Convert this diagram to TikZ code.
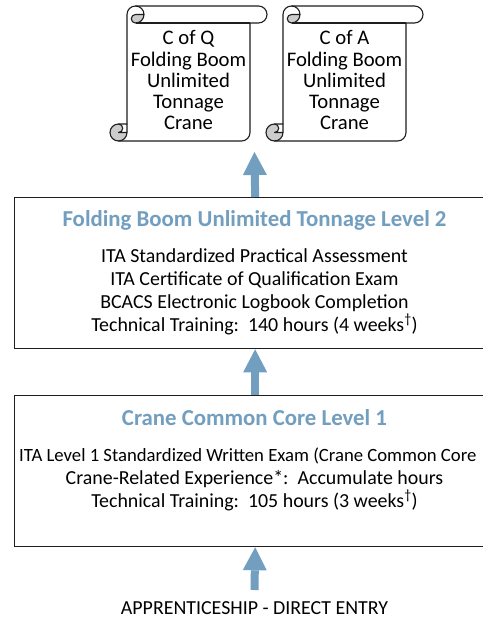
\documentclass[tikz,border=0pt]{standalone}
\usepackage{fontspec}
\setmainfont{Carlito}
\usetikzlibrary{arrows.meta}
\definecolor{steel}{RGB}{114,158,191}
\definecolor{curlgray}{RGB}{204,204,204}
\definecolor{edge}{RGB}{30,30,30}
% vertical scroll shape: #1 = left, #2 = top (pixels, y downwards)
\newcommand\myscroll[2]{%
\begin{scope}[shift={(#1,-#2)}]
  \fill[white] (17,-118) -- (17,-8.5) arc[start angle=180, delta angle=-90, radius=8.5]
    -- (148.5,0) arc[start angle=90, delta angle=-180, radius=8.5]
    -- (140,-17) -- (140,-126.5) arc[start angle=0, delta angle=-90, radius=8.5]
    -- (8.5,-135) arc[start angle=-90, delta angle=-180, radius=8.5] -- cycle;
  \fill[curlgray] (34,-8.5) arc[start angle=0, delta angle=-90, radius=8.5]
    arc[start angle=-90, delta angle=-180, radius=4.25] -- cycle;
  \fill[curlgray] (17,-126.5) arc[start angle=0, delta angle=-270, radius=8.5]
    arc[start angle=90, delta angle=-180, radius=4.25] -- cycle;
  \draw[scrollline] (17,-118) -- (17,-8.5) arc[start angle=180, delta angle=-90, radius=8.5]
    -- (148.5,0) arc[start angle=90, delta angle=-180, radius=8.5]
    -- (140,-17) -- (140,-126.5) arc[start angle=0, delta angle=-90, radius=8.5]
    -- (8.5,-135) arc[start angle=-90, delta angle=-180, radius=8.5] -- cycle;
  \draw[scrollline] (25.5,0) arc[start angle=90, delta angle=-180, radius=8.5]
    arc[start angle=-90, delta angle=-180, radius=4.25] -- (34,-8.5);
  \draw[scrollline] (140,-17) -- (25.5,-17);
  \draw[scrollline] (8.5,-118) arc[start angle=90, delta angle=-180, radius=4.25] -- (17,-126.5);
  \draw[scrollline] (8.5,-135) arc[start angle=-90, delta angle=90, radius=8.5] -- (17,-118);
\end{scope}}
\begin{document}
\begin{tikzpicture}[x=1pt,y=1pt,
  scrollline/.style={draw=edge, line width=1.1pt, line join=round},
  scrolltext/.style={font=\fontsize{20.7}{21}\selectfont, anchor=base, inner sep=0pt},
  bodytext/.style={font=\fontsize{19.9}{23}\selectfont, anchor=base, inner sep=0pt},
  titletext/.style={font=\fontsize{22.8}{25}\selectfont\bfseries, text=steel, anchor=base, inner sep=0pt},
  levelbox/.style={draw=edge, line width=1.3pt, fill=white, minimum width=481, minimum height=151, anchor=north west, inner sep=0pt},
  blockarrow/.style={draw=steel, line width=8pt, line cap=butt, -{Triangle[width=24pt,length=23pt,line width=0pt]}}
]
\useasboundingbox (0,0) rectangle (482,-620);
\fill[white] (0,0) rectangle (482,-620);

% scrolls
\myscroll{110}{6}
\myscroll{266}{6}
\node[scrolltext] (q1) at (188.5,-45) {C of Q};
\node[scrolltext] (q2) at (188.5,-66.5) {Folding Boom};
\node[scrolltext] (q3) at (188.5,-87.5) {Unlimited};
\node[scrolltext] (q4) at (188.5,-108.5) {Tonnage};
\node[scrolltext] (q5) at (188.5,-130) {Crane};
\node[scrolltext] (a1) at (344.5,-45) {C of A};
\node[scrolltext] (a2) at (344.5,-66.5) {Folding Boom};
\node[scrolltext] (a3) at (344.5,-87.5) {Unlimited};
\node[scrolltext] (a4) at (344.5,-108.5) {Tonnage};
\node[scrolltext] (a5) at (344.5,-130) {Crane};

% level boxes
\node[levelbox] (lvl2) at (14,-197) {};
\node[levelbox] (lvl1) at (14,-395) {};

\node[titletext] (t2) at (254.5,-226) {Folding Boom Unlimited Tonnage Level 2};
\node[bodytext] (b21) at (254.5,-262) {ITA Standardized Practical Assessment};
\node[bodytext] (b22) at (254.5,-285) {ITA Certificate of Qualification Exam};
\node[bodytext] (b23) at (254.5,-308) {BCACS Electronic Logbook Completion};
\node[bodytext] (b24) at (254.5,-331) {Technical Training:\ \ 140 hours (4 weeks\textsuperscript{\dag})};

\node[titletext] (t1) at (254.5,-425) {Crane Common Core Level 1};
\node[bodytext, font=\fontsize{18.7}{23}\selectfont, anchor=base west] (b11) at (19,-461) {ITA Level 1 Standardized Written Exam (Crane Common Core};
\node[bodytext] (b12) at (254.5,-484) {Crane-Related Experience*:\ \ Accumulate hours};
\node[bodytext] (b13) at (254.5,-507) {Technical Training:\ \ 105 hours (3 weeks\textsuperscript{\dag})};

\node[bodytext] (entry) at (254.5,-614) {APPRENTICESHIP - DIRECT ENTRY};

% arrows
\coordinate (toptip) at (254.5,-152);
\coordinate (entrytop) at (254.5,-590);
\draw[blockarrow] (lvl2.north) -- (toptip);
\draw[blockarrow] (lvl1.north) -- (lvl2.south);
\draw[blockarrow] (entrytop) -- (lvl1.south);
\end{tikzpicture}
\end{document}
